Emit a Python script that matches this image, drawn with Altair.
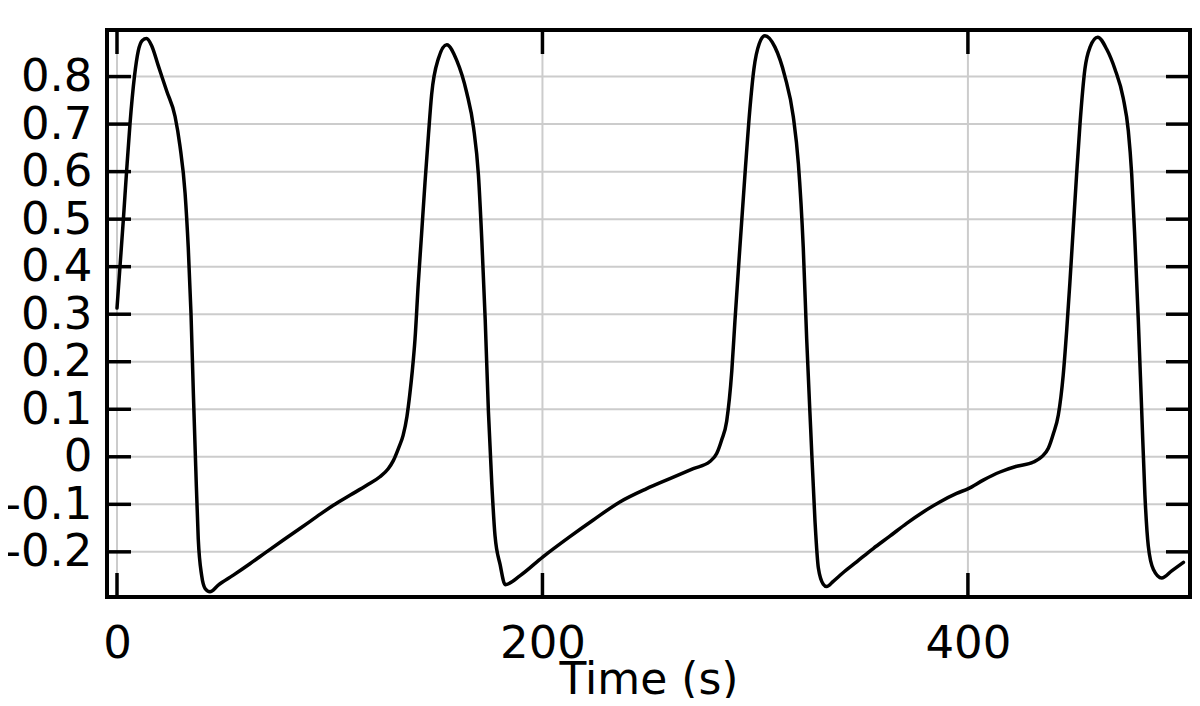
import altair as alt
import pandas as pd

# ---- data ----
time_s = [
    0.0, 1.4, 3.0, 4.5, 6.1, 8.2, 10.0, 11.9, 13.9, 16.3, 19.4, 23.4, 27.3, 29.6,
    32.0, 33.5, 34.8, 35.9, 37.0, 38.2, 39.8, 41.4, 43.7, 47.6, 54.7, 62.5, 70.3,
    78.2, 86.0, 93.9, 101.7, 109.5, 117.4, 123.6, 127.5, 129.9, 132.5, 134.5,
    136.3, 137.6, 138.8, 140.1, 141.6, 143.2, 144.8, 146.4, 147.9, 151.1, 155.0,
    159.7, 164.4, 167.6, 169.9, 171.5, 173.1, 174.6, 176.2, 177.7, 180.1, 182.5,
    189.5, 200.1, 212.9, 223.9, 236.4, 249.0, 259.9, 270.9, 278.7, 281.9, 284.2,
    286.6, 289.0, 290.5, 292.8, 295.2, 297.5, 299.4, 301.9, 304.6, 309.3, 314.0,
    317.9, 320.3, 322.6, 324.2, 326.1, 328.1, 329.7, 332.0, 333.6, 336.7, 341.0,
    347.7, 355.5, 363.3, 371.2, 379.0, 386.8, 394.7, 400.2, 407.2, 415.1, 422.9,
    430.8, 434.7, 437.8, 440.2, 442.5, 444.8, 446.4, 447.9, 449.5, 451.1, 452.7,
    455.0, 457.4, 461.0, 465.2, 469.1, 473.0, 475.4, 477.0, 478.5, 480.1, 481.7,
    483.2, 484.8, 487.2, 491.1, 495.8, 501.3,
]
value = [
    0.313, 0.40, 0.50, 0.60, 0.70, 0.80, 0.854, 0.876, 0.880, 0.865, 0.823, 0.769,
    0.716, 0.654, 0.555, 0.44, 0.30, 0.133, -0.02, -0.173, -0.25, -0.277, -0.284,
    -0.270, -0.249, -0.225, -0.200, -0.175, -0.151, -0.126, -0.102, -0.081,
    -0.060, -0.042, -0.025, -0.008, 0.020, 0.045, 0.085, 0.130, 0.180, 0.248,
    0.363, 0.470, 0.578, 0.677, 0.762, 0.838, 0.867, 0.834, 0.766, 0.693, 0.593,
    0.455, 0.287, 0.095, -0.058, -0.166, -0.227, -0.269, -0.250, -0.211, -0.168,
    -0.133, -0.095, -0.067, -0.046, -0.025, -0.010, 0.007, 0.035, 0.075, 0.180,
    0.287, 0.440, 0.594, 0.731, 0.816, 0.869, 0.886, 0.862, 0.800, 0.716, 0.617,
    0.440, 0.249, 0.057, -0.134, -0.234, -0.268, -0.273, -0.262, -0.245, -0.221,
    -0.193, -0.167, -0.140, -0.116, -0.095, -0.077, -0.067, -0.049, -0.032,
    -0.020, -0.011, 0.000, 0.018, 0.049, 0.088, 0.172, 0.264, 0.364, 0.479,
    0.594, 0.701, 0.816, 0.862, 0.883, 0.858, 0.816, 0.755, 0.686, 0.594, 0.456,
    0.287, 0.096, -0.080, -0.188, -0.237, -0.255, -0.240, -0.222,
]
x_ticks = [0, 200, 400]
y_ticks = [-0.2, -0.1, 0.0, 0.1, 0.2, 0.3, 0.4, 0.5, 0.6, 0.7, 0.8]
x_title = "Time (s)"

# ---- layout ----
W, H = 1083, 567
TICK = 24
FONT = "DejaVu Sans"
FS = 45

curve_df = pd.DataFrame({"t": time_s, "v": value})
xt_df = pd.DataFrame({"t": x_ticks})
yt_df = pd.DataFrame({"v": y_ticks})

xs = alt.Scale(domain=[-4.7, 504.4], nice=False, zero=False)
ys = alt.Scale(domain=[-0.295, 0.898], nice=False, zero=False)

x_axis = alt.Axis(
    values=x_ticks, grid=False, ticks=False, tickSize=0, domain=False,
    labelFont=FONT, labelFontSize=FS, labelColor="black", labelPadding=24,
    labelFlush=False, labelOverlap=False,
    titleFont=FONT, titleFontSize=44, titleFontWeight="normal", titleColor="black",
    titleY=61, titleBaseline="top",
)
y_axis = alt.Axis(
    values=y_ticks, grid=False, ticks=False, tickSize=0, domain=False,
    labelFont=FONT, labelFontSize=FS, labelColor="black", labelPadding=15,
    labelFlush=False, labelOverlap=False,
    labelExpr="abs(datum.value) < 1e-9 ? '0' : (datum.value < 0 ? '-' + format(-datum.value, '.1f') : format(datum.value, '.1f'))",
)

X = alt.X("t:Q", scale=xs, axis=x_axis, title=x_title)
Y = alt.Y("v:Q", scale=ys, axis=y_axis, title="")

grid_x = alt.Chart(xt_df).mark_rule(color="#cccccc", strokeWidth=2).encode(x=X)
grid_y = alt.Chart(yt_df).mark_rule(color="#cccccc", strokeWidth=2).encode(y=Y)

curve = alt.Chart(curve_df).mark_line(
    color="black", strokeWidth=3.5, interpolate="monotone", strokeJoin="round", strokeCap="round"
).encode(x=X, y=Y)

tick_style = dict(color="black", strokeWidth=3.5)
xt_bottom = alt.Chart(xt_df).mark_rule(**tick_style).encode(
    x=X, y=alt.value(H), y2=alt.value(H - TICK))
xt_top = alt.Chart(xt_df).mark_rule(**tick_style).encode(
    x=X, y=alt.value(0), y2=alt.value(TICK))
yt_left = alt.Chart(yt_df).mark_rule(**tick_style).encode(
    y=Y, x=alt.value(0), x2=alt.value(TICK))
yt_right = alt.Chart(yt_df).mark_rule(**tick_style).encode(
    y=Y, x=alt.value(W), x2=alt.value(W - TICK))

chart = alt.layer(
    grid_x, grid_y, curve, xt_bottom, xt_top, yt_left, yt_right
).properties(
    width=W, height=H,
    autosize=alt.AutoSizeParams(type="none"),
    padding={"left": 99, "top": 22, "right": 2, "bottom": 101},
    background="white",
).configure_view(stroke="black", strokeWidth=4)

chart.save("out.html", embed_options={"renderer": "svg", "actions": False})
